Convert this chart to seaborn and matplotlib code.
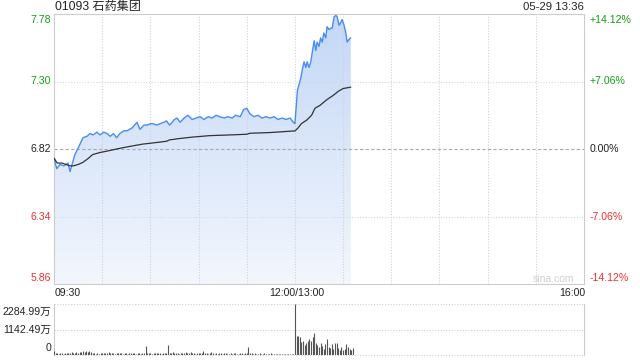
import numpy as np
import matplotlib
matplotlib.use('Agg')
import matplotlib.pyplot as plt
import seaborn as sns
from matplotlib.colors import LinearSegmentedColormap

# ---------------- data ----------------
title = "01093 石药集团"
stamp = "05-29 13:36"
price_ticks = [7.78, 7.30, 6.82, 6.34, 5.86]
price_tick_text = ["7.78", "7.30", "6.82", "6.34", "5.86"]
pct_ticks = ["+14.12%", "+7.06%", "0.00%", "-7.06%", "-14.12%"]
time_labels = ["09:30", "12:00/13:00", "16:00"]
vol_tick_text = ["2284.99万", "1142.49万", "0"]
vol_max = 2284.99

# minutes since 09:30 (trading minutes; 12:00/13:00 = 150, 16:00 = 330)
price_t = [0, 1.7, 3.7, 6.2, 8.7, 10, 13, 16, 18, 20.5, 22.4, 24.3, 26.8, 28.6,
           31, 33, 35, 37, 39, 41, 43.6, 45.5, 48.6, 51.7, 53.5, 56, 58, 60,
           61.6, 64, 66, 68.5, 70, 72, 75, 76.6, 78.5, 81, 83.4, 86, 88.4, 91,
           93.4, 96, 98.4, 101, 103, 106, 108, 111, 113, 116, 118, 120, 122,
           124.5, 127, 129.5, 132, 134.5, 137, 139.5, 142, 144.4, 147, 149, 150,
           151.6, 153.7, 154.5, 155.7, 156.8, 157.6, 158.8, 159.9, 160.7, 162,
           163, 163.8, 165, 166, 167, 168, 169.2, 170, 171.3, 172.4, 173.2,
           174.4, 175.5, 176.3, 177.5, 178.6, 179.4, 180.6, 181.7, 182.5,
           183.7, 184.8]
price_v = [6.755, 6.68, 6.71, 6.70, 6.72, 6.66, 6.78, 6.85, 6.90, 6.91, 6.93,
           6.92, 6.94, 6.92, 6.94, 6.93, 6.91, 6.93, 6.90, 6.93, 6.95, 6.95,
           6.97, 7.01, 6.96, 6.99, 6.99, 7.00, 7.00, 6.99, 7.00, 7.01, 7.02,
           6.99, 7.03, 7.04, 7.01, 7.04, 7.06, 7.03, 7.04, 7.05, 7.03, 7.05,
           7.04, 7.06, 7.05, 7.04, 7.05, 7.04, 7.06, 7.05, 7.10, 7.11, 7.07,
           7.05, 7.06, 7.04, 7.05, 7.04, 7.05, 7.03, 7.04, 7.03, 7.04, 7.01,
           7.00,
           7.24, 7.325, 7.38, 7.44, 7.40, 7.44, 7.40, 7.44, 7.50, 7.59, 7.52,
           7.58, 7.55, 7.61, 7.58, 7.645, 7.61, 7.69, 7.67, 7.68, 7.68, 7.76,
           7.77, 7.76, 7.70, 7.72, 7.74, 7.70, 7.645, 7.58, 7.60, 7.61]

avg_t = [0, 2, 5, 10, 12, 15, 18, 21, 24, 28.6, 33, 39, 45.5, 50.4, 55.4, 63,
         70, 72, 78.5, 86.5, 97, 109.6, 120, 122, 134.5, 149, 150, 152, 154,
         157.3, 160.4, 162.5, 165.6, 169.8, 173.7, 177, 180, 184.8]
avg_v = [6.755, 6.72, 6.72, 6.70, 6.70, 6.71, 6.725, 6.75, 6.78, 6.795, 6.805,
         6.82, 6.835, 6.845, 6.855, 6.865, 6.875, 6.885, 6.895, 6.905, 6.915,
         6.92, 6.925, 6.932, 6.937, 6.948, 6.948, 6.97, 7.00, 7.025, 7.06, 7.11,
         7.13, 7.17, 7.20, 7.23, 7.25, 7.26]

# volume (万股) per minute
vol_am = [160, 90, 70, 60, 80, 75, 65, 90, 110, 85,
          95, 120, 100, 80, 140, 110, 150, 130, 170, 120,
          190, 150, 175, 130, 90, 70, 60, 80, 65, 75,
          85, 70, 100, 90, 140, 80, 70, 95, 60, 75,
          90, 110, 80, 65, 70, 85, 60, 75, 90, 80,
          70, 65, 85, 95, 60, 80, 75, 410, 90, 70,
          85, 60, 75, 95, 80, 70, 100, 65, 80, 90,
          75, 455, 85, 70, 120, 95, 80, 110, 65, 90,
          100, 75, 130, 85, 70, 120, 95, 80, 60, 110,
          85, 70, 95, 190, 80, 75, 60, 85, 120, 70,
          65, 80, 55, 75, 90, 60, 70, 85, 65, 55,
          75, 60, 80, 70, 55, 65, 90, 75, 60, 70,
          85, 367, 110, 70, 60, 80, 55, 65, 70, 50,
          60, 75, 55, 65, 50, 70, 45, 60, 55, 65,
          50, 45, 60, 40, 55, 50, 45, 40, 55, 35]
vol_pm = [2284.99, 848, 835, 790, 570, 630, 440, 560, 630, 730, 630, 790, 965,
          560, 440, 340, 560, 400, 290, 480, 700, 370, 310, 480, 290, 560, 530,
          310, 220, 370, 220, 290, 480, 340, 260, 220, 300]

# ---------------- style ----------------
sns.set_style('white')
plt.rcParams['font.family'] = ['Liberation Sans', 'Noto Sans CJK SC', 'DejaVu Sans']

GREEN = '#12a012'
RED = '#ee3030'
BLACK = '#222222'
BORDER = '#cccccc'
W, H = 640, 360

fig = plt.figure(figsize=(6.4, 3.6), dpi=100)
fig.patch.set_facecolor('white')


def fx(x):
    return x / W


def fy(y):
    return 1 - y / H


ax = fig.add_axes([54 / W, 1 - 284 / H, 530 / W, 270 / H])
vax = fig.add_axes([54 / W, 1 - 355 / H, 530 / W, 51 / H])

y_lo, y_hi = price_ticks[-1], price_ticks[0]

# gradient fill below the price line
grad = np.linspace(0, 1, 256).reshape(-1, 1)
cmap = LinearSegmentedColormap.from_list('g', ['#f3f7fe', '#c3d7f6'])
im = ax.imshow(grad, extent=[0, 330, y_lo, y_hi], origin='lower',
               aspect='auto', cmap=cmap, zorder=1)
poly = ax.fill_between(price_t, price_v, y_lo, facecolor='none',
                       edgecolor='none', zorder=1)
im.set_clip_path(poly.get_paths()[0], transform=ax.transData)

# grid
for t in range(30, 330, 30):
    ax.axvline(t, color='#d2d2d2', lw=0.8, ls=(0, (1, 1.5)), zorder=2)
for p in (price_ticks[1], price_ticks[3]):
    ax.axhline(p, color='#d6d6d6', lw=0.8, ls=(0, (1, 1.5)), zorder=2)
ax.axhline(price_ticks[2], color='#aaaaaa', lw=0.8, ls=(0, (3, 2)), zorder=2)

sns.lineplot(x=price_t, y=price_v, ax=ax, color='#4b8cf2', lw=1.0,
             estimator=None, zorder=4)
sns.lineplot(x=avg_t, y=avg_v, ax=ax, color='#333333', lw=0.9,
             estimator=None, zorder=5)

ax.set_xlim(0, 330)
ax.set_ylim(y_lo, y_hi)
ax.set_xticks([])
ax.set_yticks([])
ax.set_xlabel('')
ax.set_ylabel('')
for s in ax.spines.values():
    s.set_color(BORDER)
    s.set_linewidth(0.8)

# volume panel
vol_t = list(range(len(vol_am))) + list(range(150, 150 + len(vol_pm)))
vol = vol_am + vol_pm
vax.vlines(vol_t, 0, vol, color='#555555', lw=0.8, zorder=3)
vax.set_xlim(0, 330)
vax.set_ylim(0, vol_max)
for v in (vol_max, vol_max / 2, 0):
    vax.axhline(v, color='#cfcfcf', lw=0.8, ls=(0, (1, 1.5)), zorder=1,
                clip_on=False)
vax.set_xticks([])
vax.set_yticks([])
vax.spines['top'].set_visible(False)
vax.spines['bottom'].set_visible(False)
for k in ('left', 'right'):
    vax.spines[k].set_color(BORDER)
    vax.spines[k].set_linewidth(0.8)

# ---------------- texts ----------------
fs = 7.6
fig.text(fx(55), fy(7), title, ha='left', va='center', fontsize=8.7, color=BLACK)
fig.text(fx(584), fy(7), stamp, ha='right', va='center', fontsize=8.2, color=BLACK)

label_y = [20, 81.5, 149, 216.5, 278]
label_col = [GREEN, GREEN, BLACK, RED, RED]
for txt, pct, yy, c in zip(price_tick_text, pct_ticks, label_y, label_col):
    fig.text(fx(51), fy(yy), txt, ha='right', va='center', fontsize=fs, color=c)
    fig.text(fx(590), fy(yy), pct, ha='left', va='center', fontsize=fs, color=c)

fig.text(fx(55), fy(293), time_labels[0], ha='left', va='center', fontsize=fs, color=BLACK)
fig.text(fx(296.5), fy(293), time_labels[1], ha='center', va='center', fontsize=fs, color=BLACK)
fig.text(fx(585), fy(293), time_labels[2], ha='right', va='center', fontsize=fs, color=BLACK)

for txt, yy in zip(vol_tick_text, [312, 330, 348]):
    fig.text(fx(51), fy(yy), txt, ha='right', va='center', fontsize=fs, color=BLACK)

fig.text(fx(574), fy(279), "sina.com", ha='right', va='center', fontsize=7.5,
         color='#cfcfcf')

fig.savefig('out.png', dpi=100, facecolor='white')
